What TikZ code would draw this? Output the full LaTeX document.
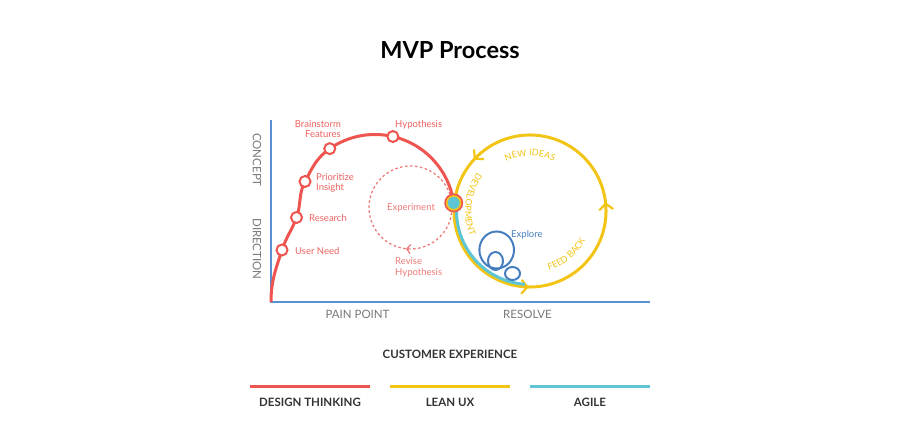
\documentclass[tikz,border=0pt]{standalone}
\usepackage{fontspec}
\setmainfont{Lato}
\usepackage{tikz}
\usetikzlibrary{arrows.meta,decorations.markings,decorations.text}
\definecolor{dtred}{RGB}{239,85,80}
\definecolor{dtlabel}{RGB}{236,98,95}
\definecolor{dtsoft}{RGB}{238,122,120}
\definecolor{leanyellow}{RGB}{242,196,22}
\definecolor{agilecyan}{RGB}{94,197,213}
\definecolor{axisblue}{RGB}{88,146,212}
\definecolor{exploreblue}{RGB}{70,125,190}
\definecolor{axisgray}{RGB}{120,120,120}
\definecolor{darktext}{RGB}{51,51,51}

\begin{document}
\begin{tikzpicture}[x=1pt,y=1pt]
  \tikzstyle{axisline}=[draw=axisblue,line width=2pt]
  \tikzstyle{dtline}=[draw=dtred,line width=3pt]
  \tikzstyle{leanline}=[draw=leanyellow,line width=3pt]
  \tikzstyle{agileline}=[draw=agilecyan,line width=3pt]
  \tikzstyle{stepdot}=[circle,draw=dtred,fill=white,line width=2pt,minimum size=11pt,inner sep=0pt]
  \tikzstyle{steplbl}=[inner sep=0pt,text=dtlabel,font=\fontsize{9.5}{10.5}\selectfont]
  \tikzstyle{axislbl}=[inner sep=0pt,text=axisgray,font=\fontsize{11.5}{12}\selectfont]
  \tikzstyle{keylbl}=[inner sep=0pt,text=darktext,font=\fontsize{11.5}{12}\selectfont\bfseries]
  \tikzstyle{looptext}=[decorate,decoration={text along path,text align=center,text color=leanyellow}]
  \newcommand{\leanchevron}{\draw[leanyellow,line width=2.2pt,line join=round] (-6pt,7pt) -- (0pt,0pt) -- (-6pt,-7pt);}
  \newcommand{\dtchevron}{\draw[dtsoft,solid,line width=1.3pt] (-3.5pt,4.5pt) -- (0pt,0pt) -- (-3.5pt,-4.5pt);}
  \useasboundingbox (0,0) rectangle (900,436);

  \node[font=\fontsize{23.5}{28}\selectfont\bfseries] (title) at (450,386) {MVP Process};

  % axes
  \coordinate (origin) at (271,134);
  \coordinate (ytop) at (271,316);
  \coordinate (xend) at (650,134);
  \draw[axisline] (ytop) -- (origin) -- (xend);
  \node[axislbl,rotate=-90] (concept) at (257,276) {CONCEPT};
  \node[axislbl,rotate=-90] (direction) at (257,187) {DIRECTION};
  \node[axislbl] (pain) at (357.5,122) {PAIN POINT};
  \node[axislbl] (resolve) at (527.5,122) {RESOLVE};
  \node[keylbl] (cx) at (450,82) {CUSTOMER EXPERIENCE};

  % lean ux loop
  \draw[leanline,postaction={decorate},decoration={markings,
      mark=at position 0.3236 with {\leanchevron},
      mark=at position 0.689 with {\leanchevron},
      mark=at position 0.9597 with {\leanchevron}}]
    ([shift={(530,225)}]20:76) arc[start angle=20,end angle=380,radius=76pt];
  \draw[agileline] ([shift={(530,225)}]175:73.5) arc[start angle=175,end angle=266,radius=73.5pt];
  \path[looptext,decoration={text={|\fontsize{9}{9}\selectfont|NEW IDEAS}}]
    ([shift={(530,225)}]130:55) arc[start angle=130,end angle=50,radius=55pt];
  \path[looptext,decoration={text={|\fontsize{9}{9}\selectfont|DEVELOPMENT}}]
    ([shift={(530,225)}]133.5:65) arc[start angle=133.5,end angle=213.5,radius=65pt];
  \path[looptext,decoration={text={|\fontsize{9}{9}\selectfont|FEED BACK}}]
    ([shift={(530,225)}]-90:62.5) arc[start angle=-90,end angle=-10,radius=62.5pt];

  % explore loops
  \draw[exploreblue,line width=2pt] (496.7,186) ellipse[x radius=17.3pt,y radius=18.5pt];
  \draw[exploreblue,line width=2pt] (495.5,175) ellipse[x radius=7.5pt,y radius=9pt];
  \draw[exploreblue,line width=2pt] (512.5,162.5) ellipse[x radius=7.5pt,y radius=6.5pt];
  \node[steplbl,text=exploreblue,anchor=west] (explore) at (511,201) {Explore};

  % experiment loop
  \draw[dtsoft,line width=1.3pt,dash pattern=on 2.5pt off 2.5pt,postaction={decorate},
      decoration={markings,mark=at position 0.264 with {\dtchevron}}]
    ([shift={(410.5,228.5)}]0:41.5) arc[start angle=0,end angle=-360,radius=41.5pt];
  \node[steplbl,text=dtsoft] (experiment) at (411,228) {Experiment};
  \node[steplbl,text=dtsoft,anchor=west,align=left] (revise) at (395,168.5) {Revise\\Hypothesis};

  % design thinking curve
  \coordinate (needpt) at (282,186);
  \coordinate (researchpt) at (296.5,218.5);
  \coordinate (prioritypt) at (305,254.5);
  \coordinate (brainpt) at ([shift={(375,222)}]124.7:79.5);
  \coordinate (hyppt) at ([shift={(375,222)}]77:79.5);
  \coordinate (meetpt) at ([shift={(375,222)}]8:79.5);
  \draw[dtline] (origin) to[out=90,in=-108] (needpt) to[out=72,in=-110] (researchpt)
    to[out=70,in=-118] (prioritypt) to[out=62,in=-145] (brainpt)
    arc[start angle=124.7,end angle=8,radius=79.5pt];
  \node[stepdot] (need) at (needpt) {};
  \node[stepdot] (research) at (researchpt) {};
  \node[stepdot] (priority) at (prioritypt) {};
  \node[stepdot] (brain) at (brainpt) {};
  \node[stepdot] (hyp) at (hyppt) {};
  \node[steplbl,anchor=west] (needlbl) at (295,185) {User Need};
  \node[steplbl,anchor=west] (researchlbl) at (309,218) {Research};
  \node[steplbl,anchor=west,align=left] (prioritylbl) at (316,253) {Prioritize\\Insight};
  \node[steplbl,anchor=east,align=right] (brainlbl) at (341,307) {Brainstorm\\Features};
  \node[steplbl,anchor=west] (hyplbl) at (395,311) {Hypothesis};

  % where the three meet
  \node[circle,fill=dtred,minimum size=19pt,inner sep=0pt] (meet) at (meetpt) {};
  \node[circle,fill=leanyellow,minimum size=15.5pt,inner sep=0pt] (meetmid) at (meetpt) {};
  \node[circle,fill=agilecyan,minimum size=12pt,inner sep=0pt] (meetin) at (meetpt) {};

  % key
  \coordinate (dtl) at (250,49);
  \coordinate (dtr) at (370,49);
  \coordinate (lul) at (390,49);
  \coordinate (lur) at (510,49);
  \coordinate (agl) at (530,49);
  \coordinate (agr) at (650,49);
  \draw[dtline] (dtl) -- (dtr);
  \draw[leanline] (lul) -- (lur);
  \draw[agileline] (agl) -- (agr);
  \node[keylbl] (dtkey) at (310,34) {DESIGN THINKING};
  \node[keylbl] (lukey) at (450,34) {LEAN UX};
  \node[keylbl] (agkey) at (590,34) {AGILE};
\end{tikzpicture}
\end{document}
